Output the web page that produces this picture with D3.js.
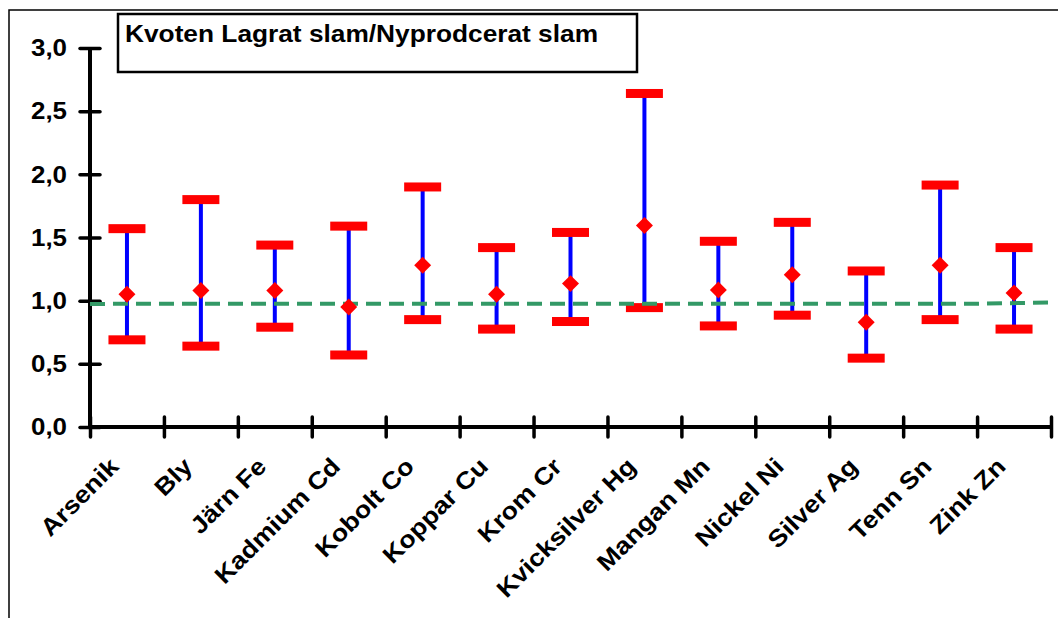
<!DOCTYPE html>
<html>
<head>
<meta charset="utf-8">
<script src="https://cdn.jsdelivr.net/npm/d3@7"></script>
<style>
  body { margin: 0; background: #fff; }
  text { font-family: "Liberation Sans", Arial, sans-serif; font-weight: bold; }
</style>
</head>
<body>
<div id="chart"></div>
<script>
// Kvot lagrat / nyproducerat slam per metall
const categories = ["Arsenik", "Bly", "Järn Fe", "Kadmium Cd", "Kobolt Co", "Koppar Cu",
  "Krom Cr", "Kvicksilver Hg", "Mangan Mn", "Nickel Ni", "Silver Ag", "Tenn Sn", "Zink Zn"];
const maxValues = [1.57, 1.80, 1.44, 1.59, 1.90, 1.42, 1.54, 2.64, 1.47, 1.62, 1.235, 1.915, 1.42];
const minValues = [0.69, 0.64, 0.79, 0.57, 0.85, 0.775, 0.835, 0.945, 0.80, 0.885, 0.545, 0.85, 0.775];
const meanValues = [1.05, 1.08, 1.08, 0.95, 1.28, 1.05, 1.135, 1.595, 1.085, 1.205, 0.83, 1.28, 1.06];
// green reference line, one value per category boundary
const refLine = [0.974, 0.976, 0.976, 0.976, 0.976, 0.976, 0.976, 0.976, 0.976, 0.976, 0.976, 0.976, 0.976, 0.985];
const yTicks = [0, 0.5, 1, 1.5, 2, 2.5, 3];
const title = "Kvoten Lagrat slam/Nyprodcerat slam";

const width = 1058, height = 618;
const plotLeft = 90, plotRight = 1051, plotTop = 48, plotBottom = 427;

const svg = d3.select("#chart").append("svg")
  .attr("width", width)
  .attr("height", height);

// outer frame
svg.append("rect")
  .attr("x", 9).attr("y", 10)
  .attr("width", 1070).attr("height", 640)
  .attr("fill", "none").attr("stroke", "#000").attr("stroke-width", 1.5);

const x = d3.scaleBand().domain(categories).range([plotLeft, plotRight]).padding(0);
const xb = d3.scaleLinear().domain([0, categories.length]).range([plotLeft, plotRight]);
const y = d3.scaleLinear().domain([0, 3]).range([plotBottom, plotTop]);

// y axis
const yAxis = svg.append("g")
  .attr("transform", "translate(" + plotLeft + ",0)")
  .call(d3.axisLeft(y).tickValues(yTicks).tickSize(10).tickPadding(22)
    .tickFormat(d => d3.format(".1f")(d).replace(".", ",")));
yAxis.select(".domain").attr("d", "M0," + y(3) + "V" + y(0))
  .attr("stroke-width", 4);
yAxis.selectAll(".tick line").attr("x1", 10).attr("stroke-width", 3.5).attr("stroke-linecap", "round");
yAxis.selectAll(".tick text")
  .attr("x", 0)
  .attr("transform", "translate(-23,0) scale(1.08,1)")
  .style("font-size", "24px").attr("fill", "#000");

// x axis
const xAxis = svg.append("g")
  .attr("transform", "translate(0," + plotBottom + ")")
  .call(d3.axisBottom(xb).tickValues(d3.range(categories.length + 1)).tickSize(10).tickFormat(""));
xAxis.select(".domain").attr("d", "M" + plotLeft + ",0H" + plotRight).attr("stroke-width", 4);
xAxis.selectAll(".tick line").attr("y1", -10).attr("stroke-width", 3.5).attr("stroke-linecap", "round");

// category labels
svg.selectAll(".xlab")
  .data(categories)
  .enter().append("text")
  .attr("class", "xlab")
  .attr("transform", d => "translate(" + (x(d) + x.bandwidth() / 2 - 7) + ",468) rotate(-45) scale(1.12,1)")
  .attr("text-anchor", "end")
  .style("font-size", "24px")
  .text(d => d);

const rows = categories.map((c, i) => ({ c: c, hi: maxValues[i], lo: minValues[i], mean: meanValues[i] }));
const cx = d => x(d.c) + x.bandwidth() / 2;

// blue whiskers
svg.selectAll(".whisker")
  .data(rows)
  .enter().append("line")
  .attr("x1", cx).attr("x2", cx)
  .attr("y1", d => y(d.hi)).attr("y2", d => y(d.lo))
  .attr("stroke", "#0000ff").attr("stroke-width", 4);

// red caps
const caps = rows.flatMap(d => [{ c: d.c, v: d.hi }, { c: d.c, v: d.lo }]);
svg.selectAll(".cap")
  .data(caps)
  .enter().append("rect")
  .attr("x", d => cx(d) - 18.5)
  .attr("y", d => y(d.v) - 4.5)
  .attr("width", 37).attr("height", 9)
  .attr("fill", "#ff0000");

// green dashed reference line
svg.append("path")
  .datum(refLine)
  .attr("fill", "none")
  .attr("stroke", "#339966")
  .attr("stroke-width", 4)
  .attr("stroke-dasharray", "15,8")
  .attr("d", d3.line().x((d, i) => xb(i)).y(d => y(d)));

// mean markers
svg.selectAll(".mean")
  .data(rows)
  .enter().append("path")
  .attr("d", d3.symbol().type(d3.symbolSquare).size(144))
  .attr("transform", d => "translate(" + cx(d) + "," + y(d.mean) + ") rotate(45)")
  .attr("fill", "#ff0000");

// title box
svg.append("rect")
  .attr("x", 118).attr("y", 14)
  .attr("width", 519).attr("height", 58)
  .attr("fill", "#fff").attr("stroke", "#000").attr("stroke-width", 2.5);
svg.append("text")
  .attr("x", 125).attr("y", 42)
  .style("font-size", "24px")
  .attr("textLength", 473)
  .attr("lengthAdjust", "spacingAndGlyphs")
  .text(title);
</script>
</body>
</html>
